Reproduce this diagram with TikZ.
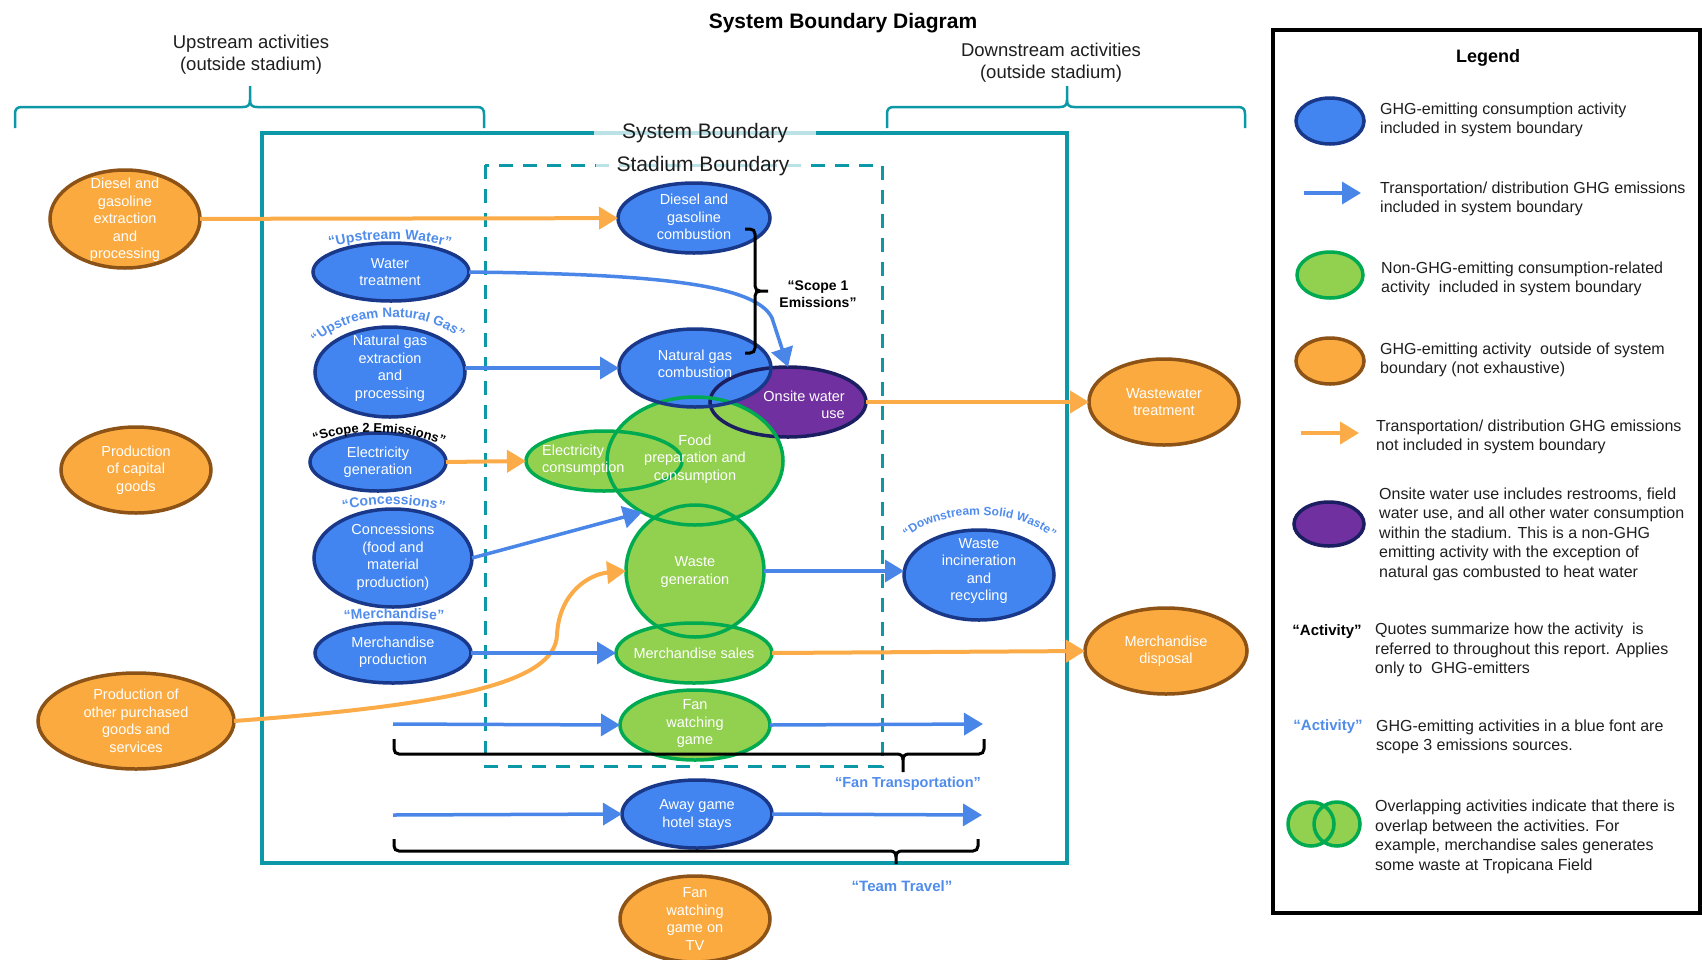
\documentclass[tikz,border=0pt]{standalone}
\usepackage{fontspec}
\setmainfont{Liberation Sans}
\usetikzlibrary{arrows.meta,shapes.geometric,decorations.text}
\definecolor{tealc}{RGB}{12,152,166}
\definecolor{bfillc}{RGB}{66,133,240}
\definecolor{blinec}{RGB}{26,56,138}
\definecolor{barrowc}{RGB}{74,134,232}
\definecolor{lblc}{RGB}{80,140,235}
\definecolor{ofillc}{RGB}{251,170,64}
\definecolor{olinec}{RGB}{140,82,22}
\definecolor{oarrowc}{RGB}{251,172,72}
\definecolor{gfillc}{RGB}{146,208,80}
\definecolor{glinec}{RGB}{0,170,80}
\definecolor{pfillc}{RGB}{112,48,160}
\definecolor{plinec}{RGB}{28,30,98}
\definecolor{txtc}{RGB}{30,30,30}
\begin{document}
\begin{tikzpicture}[x=1pt,y=-1pt,
 sz/.style 2 args={minimum width=#1pt, minimum height=#2pt},
 ell/.style={ellipse, inner sep=0pt, outer sep=0pt},
 bnode/.style={ell, fill=bfillc, draw=blinec, line width=3.5pt},
 onode/.style={ell, fill=ofillc, draw=olinec, line width=3.5pt},
 gnode/.style={ell, fill=gfillc, draw=glinec, line width=3.5pt},
 pnode/.style={ell, fill=pfillc, draw=plinec, line width=3.5pt},
 bfill/.style={ell, fill=bfillc},
 gfill/.style={ell, fill=gfillc},
 pfill/.style={ell, fill=pfillc},
 bline/.style={ell, draw=blinec, line width=3.5pt},
 gline/.style={ell, draw=glinec, line width=3.5pt},
 pline/.style={ell, draw=plinec, line width=3.5pt},
 ntxt/.style={text=white, align=center, inner sep=0pt, font=\fontsize{14.5}{17.5}\selectfont},
 ltxt/.style={text=txtc, align=left, anchor=west, inner sep=0pt, font=\fontsize{16}{19.5}\selectfont},
 barrow/.style={draw=barrowc, line width=3.5pt, -{Triangle[length=19pt,width=22pt]}},
 oarrow/.style={draw=oarrowc, line width=4pt, -{Triangle[length=19pt,width=22pt]}},
 tbrace/.style={draw=tealc, line width=2.5pt},
 kbrace/.style={draw=black, line width=3pt},
 bndlbl/.style={text=txtc, font=\fontsize{21}{21}\selectfont, fill=white, fill opacity=0.72, text opacity=1, inner ysep=3pt},
]
\useasboundingbox (0,0) rectangle (1702,959);

% title and headings
\node[font=\bfseries\fontsize{21}{21}\selectfont] (title) at (843,23) {System Boundary Diagram};
\node[text=txtc, align=center, font=\fontsize{18.5}{22}\selectfont] (ups) at (251,55) {Upstream activities\\(outside stadium)};
\node[text=txtc, align=center, font=\fontsize{18.5}{22}\selectfont] (downs) at (1051,63) {Downstream activities\\(outside stadium)};

% teal braces
\draw[tbrace] (15,128) -- (15,114) .. controls (15,109) and (17,107) .. (22,107) -- (243,107) .. controls (248,107) and (250,105) .. (250,100) -- (250,86);
\draw[tbrace] (484,128) -- (484,114) .. controls (484,109) and (482,107) .. (477,107) -- (257,107) .. controls (252,107) and (250,105) .. (250,100);
\draw[tbrace] (887,128) -- (887,114) .. controls (887,109) and (889,107) .. (894,107) -- (1060,107) .. controls (1065,107) and (1067,105) .. (1067,100) -- (1067,86);
\draw[tbrace] (1245,128) -- (1245,114) .. controls (1245,109) and (1243,107) .. (1238,107) -- (1074,107) .. controls (1069,107) and (1067,105) .. (1067,100);

% boundaries
\draw[tealc, line width=3.5pt] (262,133) rectangle (1067,863);
\node[bndlbl, inner xsep=28pt] (sbl) at (705,133) {System Boundary};
\draw[tealc, line width=3pt, dash pattern=on 14pt off 10pt] (485,165) rectangle (882,766);
\node[bndlbl, inner xsep=21pt] (stl) at (703,166) {Stadium Boundary};

% outside / simple nodes
\node[onode, sz={150}{98}] (dext) at (125,219) {};
\node[onode, sz={150}{86}] (pcap) at (136,470) {};
\node[onode, sz={196}{96}] (poth) at (136,721) {};
\node[bnode, sz={156}{58}] (wt) at (391,272) {};
\node[bnode, sz={150}{90}] (ngx) at (390,372) {};
\node[bnode, sz={136}{58}] (egen) at (378,462) {};
\node[bnode, sz={158}{98}] (conc) at (393,558) {};
\node[bnode, sz={156}{60}] (mprod) at (393,653) {};
\node[bnode, sz={152}{70}] (dcomb) at (694,218) {};
\node[gnode, sz={150}{70}] (fan) at (695,725) {};
\node[bnode, sz={150}{68}] (away) at (697,814) {};
\node[onode, sz={150}{86}] (tv) at (695,919) {};
\node[bnode, sz={150}{90}] (winc) at (979,575) {};
\node[onode, sz={150}{86}] (ww) at (1164,402) {};
\node[onode, sz={162}{86}] (mdisp) at (1166,651) {};

% overlapping cluster: fills
\node[pfill, sz={156}{70}] (ons) at (788,402) {};
\node[gfill, sz={176}{128}] (food) at (695,461) {};
\node[gfill, sz={156}{60}] (econ) at (604,461) {};
\node[gfill, sz={138}{132}] (wgen) at (695,571) {};
\node[gfill, sz={156}{60}] (msale) at (694,653) {};
\node[bfill, sz={152}{78}] (ngc) at (695,368) {};
% overlapping cluster: outlines
\node[pline, sz={156}{70}] (ons-o) at (ons) {};
\node[gline, sz={176}{128}] (food-o) at (food) {};
\node[gline, sz={156}{60}] (econ-o) at (econ) {};
\node[gline, sz={138}{132}] (wgen-o) at (wgen) {};
\node[gline, sz={156}{60}] (msale-o) at (msale) {};
\node[bline, sz={152}{78}] (ngc-o) at (ngc) {};

% connectors
\draw[oarrow] (dext) -- (dcomb);
\draw[barrow] (wt.east) .. controls (640,274) and (755,282) .. (772,318) -- (ons.north);
\draw[barrow] (ngx.east |- ngc.west) -- (ngc.west);
\draw[oarrow] (egen.east) -- (econ.west);
\draw[barrow] (conc.east) -- (food.224);
\draw[oarrow] (poth.east) .. controls (450,705) and (555,683) .. (557,635) .. controls (559,592) and (590,574) .. (wgen.west);
\draw[barrow] (mprod.east) -- (msale.west);
\draw[oarrow] (ons.east) -- (ww.west);
\draw[barrow] (wgen.east) -- (wgen.east -| winc.west);
\draw[oarrow] (msale.east) -- (mdisp.west);
\coordinate (ftin) at (393,724);
\coordinate (ftout) at (983,724);
\coordinate (ttin) at (393,815);
\coordinate (ttout) at (982,815);
\draw[barrow] (ftin) -- (fan.west);
\draw[barrow] (fan.east) -- (ftout);
\draw[barrow] (ttin) -- (away.west);
\draw[barrow] (away.east) -- (ttout);

% node texts
\node[ntxt] (dext-t) at (125,220) {Diesel and\\gasoline\\extraction\\and\\processing};
\node[ntxt] (pcap-t) at (136,470) {Production\\of capital\\goods};
\node[ntxt] (poth-t) at (136,721) {Production of\\other purchased\\goods and\\services};
\node[ntxt] (wt-t) at (390,272) {Water\\treatment};
\node[ntxt] (ngx-t) at (390,368) {Natural gas\\extraction\\and\\processing};
\node[ntxt] (egen-t) at (378,462) {Electricity\\generation};
\node[ntxt] (conc-t) at (393,557) {Concessions\\(food and\\material\\production)};
\node[ntxt] (mprod-t) at (393,652) {Merchandise\\production};
\node[ntxt] (dcomb-t) at (694,217) {Diesel and\\gasoline\\combustion};
\node[ntxt] (ngc-t) at (695,364) {Natural gas\\combustion};
\node[ntxt, align=right, anchor=east] (ons-t) at (845,405) {Onsite water\\use};
\node[ntxt] (food-t) at (695,459) {Food\\preparation and\\consumption};
\node[ntxt, align=left, anchor=west] (econ-t) at (542,460) {Electricity\\consumption};
\node[ntxt] (wgen-t) at (695,572) {Waste\\generation};
\node[ntxt] (msale-t) at (694,653) {Merchandise sales};
\node[ntxt] (fan-t) at (695,724) {Fan\\watching\\game};
\node[ntxt] (away-t) at (697,815) {Away game\\hotel stays};
\node[ntxt] (tv-t) at (695,919) {Fan\\watching\\game on\\TV};
\node[ntxt] (winc-t) at (979,571) {Waste\\incineration\\and\\recycling};
\node[ntxt] (ww-t) at (1164,402) {Wastewater\\treatment};
\node[ntxt] (mdisp-t) at (1166,651) {Merchandise\\disposal};

% arched labels
\path[decorate, decoration={text along path, text align=center, text color=lblc, text={|\bfseries\fontsize{14}{14}\selectfont|“Upstream Water”}}] (321,250) .. controls (358,236) and (422,236) .. (459,250);
\path[decorate, decoration={text along path, text align=center, text color=lblc, text={|\bfseries\fontsize{13.5}{13.5}\selectfont|“Upstream Natural Gas”}}] (310,350) .. controls (338,311) and (432,303) .. (466,346);
\path[decorate, decoration={text along path, text align=center, text color=black, text={|\bfseries\fontsize{13}{13}\selectfont|“Scope 2 Emissions”}}] (308,446) .. controls (338,427) and (412,427) .. (450,449);
\path[decorate, decoration={text along path, text align=center, text color=lblc, text={|\bfseries\fontsize{14}{14}\selectfont|“Concessions”}}] (334,514) .. controls (362,501) and (423,501) .. (453,515);
\path[decorate, decoration={text along path, text align=center, text color=lblc, text={|\bfseries\fontsize{14}{14}\selectfont|“Merchandise”}}] (334,622) .. controls (365,617) and (423,617) .. (454,622);
\path[decorate, decoration={text along path, text align=center, text color=lblc, text={|\bfseries\fontsize{12}{12}\selectfont|“Downstream Solid Waste”}}] (899,546) .. controls (928,506) and (1028,503) .. (1060,547);

% black braces
\draw[kbrace] (745,229) -- (750,229) .. controls (753,229) and (755,231) .. (755,234) -- (755,286) .. controls (755,289) and (757,291) .. (760,291) -- (768,291);
\draw[kbrace] (745,353) -- (750,353) .. controls (753,353) and (755,351) .. (755,348) -- (755,296) .. controls (755,293) and (757,291) .. (760,291);
\node[align=center, font=\bfseries\fontsize{14}{17}\selectfont] (s1) at (818,294) {“Scope 1\\Emissions”};
\draw[kbrace] (394,739) -- (394,749) .. controls (394,752) and (396,754) .. (399,754) -- (897,754) .. controls (901,754) and (903,756) .. (903,760) -- (903,772);
\draw[kbrace] (984,739) -- (984,749) .. controls (984,752) and (982,754) .. (979,754) -- (909,754) .. controls (905,754) and (903,756) .. (903,760);
\node[text=lblc, font=\bfseries\fontsize{14.5}{14.5}\selectfont] (ftl) at (908,784) {“Fan Transportation”};
\draw[kbrace] (394,839) -- (394,846) .. controls (394,849) and (396,851) .. (399,851) -- (890,851) .. controls (894,851) and (896,853) .. (896,857) -- (896,864);
\draw[kbrace] (978,839) -- (978,846) .. controls (978,849) and (976,851) .. (973,851) -- (902,851) .. controls (898,851) and (896,853) .. (896,857);
\node[text=lblc, font=\bfseries\fontsize{15}{15}\selectfont] (ttl) at (902,886) {“Team Travel”};

% legend
\draw[black, line width=4pt] (1273,30) rectangle (1700,913);
\node[font=\bfseries\fontsize{18}{18}\selectfont] (legt) at (1488,58) {Legend};
\node[bnode, sz={68}{46}] (lb) at (1330,121) {};
\node[ltxt] (lt1) at (1380,120) {GHG-emitting consumption activity\\included in system boundary};
\coordinate (la1s) at (1304,193);
\coordinate (la1e) at (1361,193);
\draw[barrow] (la1s) -- (la1e);
\node[ltxt] (lt2) at (1380,199) {Transportation/ distribution GHG emissions\\included in system boundary};
\node[gnode, sz={66}{46}] (lg) at (1330,275) {};
\node[ltxt] (lt3) at (1381,279) {Non-GHG-emitting consumption-related\\activity\ \ included in system boundary};
\node[onode, sz={68}{46}] (lo) at (1330,361) {};
\node[ltxt] (lt4) at (1380,360) {GHG-emitting activity\ \ outside of system\\boundary (not exhaustive)};
\coordinate (la2s) at (1301,433);
\coordinate (la2e) at (1359,433);
\draw[oarrow] (la2s) -- (la2e);
\node[ltxt] (lt5) at (1376,437) {Transportation/ distribution GHG emissions\\not included in system boundary};
\node[pnode, sz={70}{44}] (lp) at (1329,524) {};
\node[ltxt] (lt6) at (1379,534) {Onsite water use includes restrooms, field\\water use, and all other water consumption\\within the stadium. This is a non-GHG\\emitting activity with the exception of\\natural gas combusted to heat water};
\node[font=\bfseries\fontsize{15}{15}\selectfont] (lq1) at (1327,632) {“Activity”};
\node[ltxt] (lt7) at (1375,650) {Quotes summarize how the activity\ \ is\\referred to throughout this report. Applies\\only to\ \ GHG-emitters};
\node[text=lblc, font=\bfseries\fontsize{15}{15}\selectfont] (lq2) at (1328,727) {“Activity”};
\node[ltxt] (lt8) at (1376,737) {GHG-emitting activities in a blue font are\\scope 3 emissions sources.};
\node[gfill, sz={46}{44}] (lv1) at (1311,824) {};
\node[gfill, sz={46}{44}] (lv2) at (1337,824) {};
\node[gline, sz={46}{44}] (lv1-o) at (lv1) {};
\node[gline, sz={46}{44}] (lv2-o) at (lv2) {};
\node[ltxt] (lt9) at (1375,837) {Overlapping activities indicate that there is\\overlap between the activities. For\\example, merchandise sales generates\\some waste at Tropicana Field};
\end{tikzpicture}
\end{document}
